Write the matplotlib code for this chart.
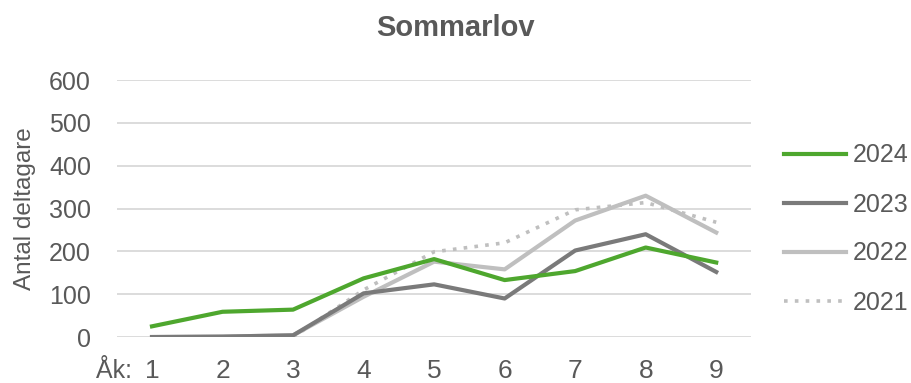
import matplotlib as mpl
import matplotlib.pyplot as plt

mpl.rc('font', family=['Liberation Sans', 'DejaVu Sans'], size=18)

grades = ['1', '2', '3', '4', '5', '6', '7', '8', '9']
years = ['2024', '2023', '2022', '2021']

y2024 = [25, 59, 64, 137, 182, 133, 154, 209, 174]
y2023 = [0, 1, 4, 102, 123, 90, 202, 240, 152]
y2022 = [0, 1, 4, 94, 176, 158, 272, 330, 244]
y2021 = [0, 0, 0, 110, 199, 220, 297, 314, 268]

text_col = '#595959'
grid_col = '#D9D9D9'

fig = plt.figure(figsize=(9.12, 3.83), dpi=100)
ax = fig.add_axes([0.128, 0.120, 0.696, 0.671])

x = range(1, len(grades) + 1)
# draw oldest first so 2024 ends up on top
l21, = ax.plot(x, y2021, color='#BFBFBF', lw=2.6, ls=(0, (1, 2)))
l22, = ax.plot(x, y2022, color='#BFBFBF', lw=3, solid_joinstyle='round')
l23, = ax.plot(x, y2023, color='#7A7A7A', lw=3, solid_joinstyle='round')
l24, = ax.plot(x, y2024, color='#4EA72E', lw=3, solid_joinstyle='round')

ax.set_xlim(0.5, 9.5)
ax.set_ylim(0, 600)
ax.set_yticks(range(0, 601, 100))
ax.set_xticks(list(x))
ax.set_xticklabels(grades)
ax.grid(axis='y', color=grid_col, lw=1.3)
ax.set_axisbelow(True)
for s in ax.spines.values():
    s.set_visible(False)
ax.tick_params(axis='both', length=0, colors=text_col)
ax.tick_params(axis='y', pad=18.5, labelsize=18)
ax.tick_params(axis='x', pad=16, labelsize=19)

# "Åk:" prefix in front of the first grade label
ak_tr = ax.get_xaxis_transform() + mpl.transforms.ScaledTranslation(
    0, -16/72, fig.dpi_scale_trans)
ax.text(0.72, 0, 'Åk:', transform=ak_tr, ha='right', va='top',
        fontsize=18, color=text_col)

fig.text(25/912, 1 - 208.5/383, 'Antal deltagare', rotation=90,
         ha='center', va='center', fontsize=17.5, color=text_col)
fig.text(0.5, 1 - 27.5/383, 'Sommarlov', ha='center', va='center',
         fontsize=21, fontweight='bold', color=text_col)

leg = fig.legend([l24, l23, l22, l21], years, loc='center left',
                 bbox_to_anchor=(784/912, 1 - 229/383), frameon=False,
                 borderaxespad=0, borderpad=0,
                 handlelength=2.5, handletextpad=0.25, labelspacing=1.0,
                 fontsize=18, labelcolor=text_col)

fig.savefig('out.png', dpi=100)
